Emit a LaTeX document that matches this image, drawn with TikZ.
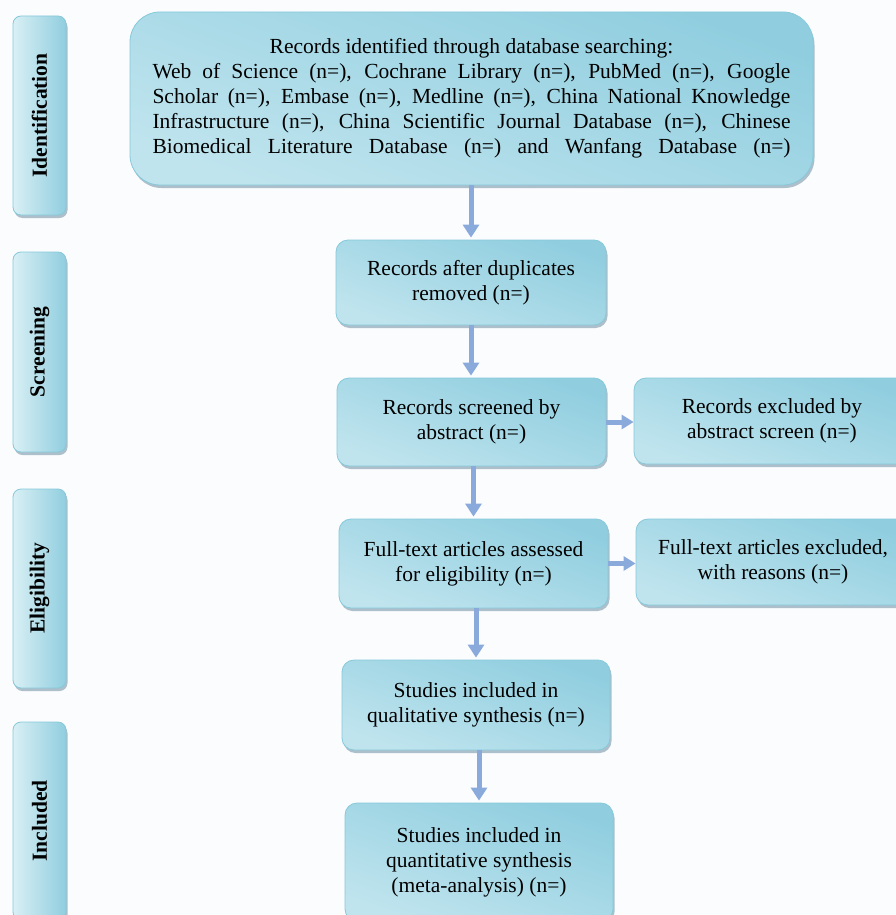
\documentclass[tikz,border=0pt]{standalone}
\usepackage{fontspec}
\setmainfont{Liberation Serif}
\usetikzlibrary{arrows.meta,shadows}
\definecolor{bdr}{HTML}{86C9DA}
\definecolor{cdark}{HTML}{90CEDF}
\definecolor{clight}{HTML}{E4F4F8}
\definecolor{cmid}{HTML}{BFE4EE}
\definecolor{arrc}{HTML}{8AAADC}
\definecolor{shd}{HTML}{8CA6B4}
\definecolor{bgc}{HTML}{FBFCFE}
\tikzset{
  box/.style={draw=bdr, line width=0.8pt, rounded corners=12pt,
    top color=cdark, middle color=clight, bottom color=cmid, shading angle=-20,
    drop shadow={shadow xshift=1.5pt, shadow yshift=-3pt, fill=shd, opacity=0.7},
    align=center, inner sep=0pt,
    font=\fontsize{21.5}{25}\selectfont},
  sidebox/.style={draw=bdr, line width=0.8pt, rounded corners=8pt,
    left color=clight!70!cmid, middle color=clight, right color=cdark,
    drop shadow={shadow xshift=1.5pt, shadow yshift=-3pt, fill=shd, opacity=0.7},
    inner sep=0pt, minimum width=53pt,
    font=\fontsize{21.5}{25}\selectfont\bfseries},
  arr/.style={draw=arrc, line width=5pt, -{Triangle[width=16pt,length=13pt]}, shorten >=2pt},
  harr/.style={draw=arrc, line width=5pt, -{Triangle[width=14pt,length=12pt]}},
}
\begin{document}
\begin{tikzpicture}[x=1pt,y=-1pt]
\fill[bgc] (0,0) rectangle (896,915);
\useasboundingbox (0,0) rectangle (896,915);

% side labels
\node[sidebox, minimum height=199pt] (s1) at (39.5,115.5) {\rotatebox{90}{Identification}};
\node[sidebox, minimum height=200pt] (s2) at (39.5,352) {\rotatebox{90}{Screening}};
\node[sidebox, minimum height=199pt] (s3) at (39.5,588.5) {\rotatebox{90}{Eligibility}};
\node[sidebox, minimum height=198pt] (s4) at (39.5,821) {\rotatebox{90}{Included}};

% top box
\node[box, rounded corners=30pt, minimum width=683pt, minimum height=173pt] (top) at (471.5,98.5)
 {Records identified through database searching:\\
  \makebox[638pt][s]{Web of Science (n=), Cochrane Library (n=), PubMed (n=), Google}\\
  \makebox[638pt][s]{Scholar (n=), Embase (n=), Medline (n=), China National Knowledge}\\
  \makebox[638pt][s]{Infrastructure (n=), China Scientific Journal Database (n=), Chinese}\\
  \makebox[638pt][s]{Biomedical Literature Database (n=) and Wanfang Database (n=)}};

\node[box, minimum width=270pt, minimum height=85pt] (b2) at (471,282.5)
 {Records after duplicates\\removed (n=)};
\node[box, minimum width=269pt, minimum height=88pt] (b3) at (471.5,422)
 {Records screened by\\abstract (n=)};
\node[box, minimum width=276pt, minimum height=86pt] (r1) at (772,421)
 {Records excluded by\\abstract screen (n=)};
\node[box, minimum width=269pt, minimum height=89pt] (b4) at (473.5,563.5)
 {Full-text articles assessed\\for eligibility (n=)};
\node[box, minimum width=274pt, minimum height=86pt] (r2) at (773,562)
 {Full-text articles excluded,\\with reasons (n=)};
\node[box, minimum width=268pt, minimum height=90pt] (b5) at (476,705)
 {Studies included in\\qualitative synthesis (n=)};
\node[box, minimum width=268pt, minimum height=118pt] (b6) at (479,862)
 {Studies included in\\quantitative synthesis\\(meta-analysis) (n=)};

% arrows
\draw[arr] (top.south -| b2.north) -- (b2.north);
\draw[arr] (b2.south) -- (b2.south |- b3.north);
\draw[arr] (b3.south -| b4.north) -- (b4.north);
\draw[arr] (b4.south -| b5.north) -- (b5.north);
\draw[arr] (b5.south -| b6.north) -- (b6.north);
\draw[harr] (b3.east) -- (b3.east -| r1.west);
\draw[harr] (b4.east) -- (b4.east -| r2.west);
\end{tikzpicture}
\end{document}
